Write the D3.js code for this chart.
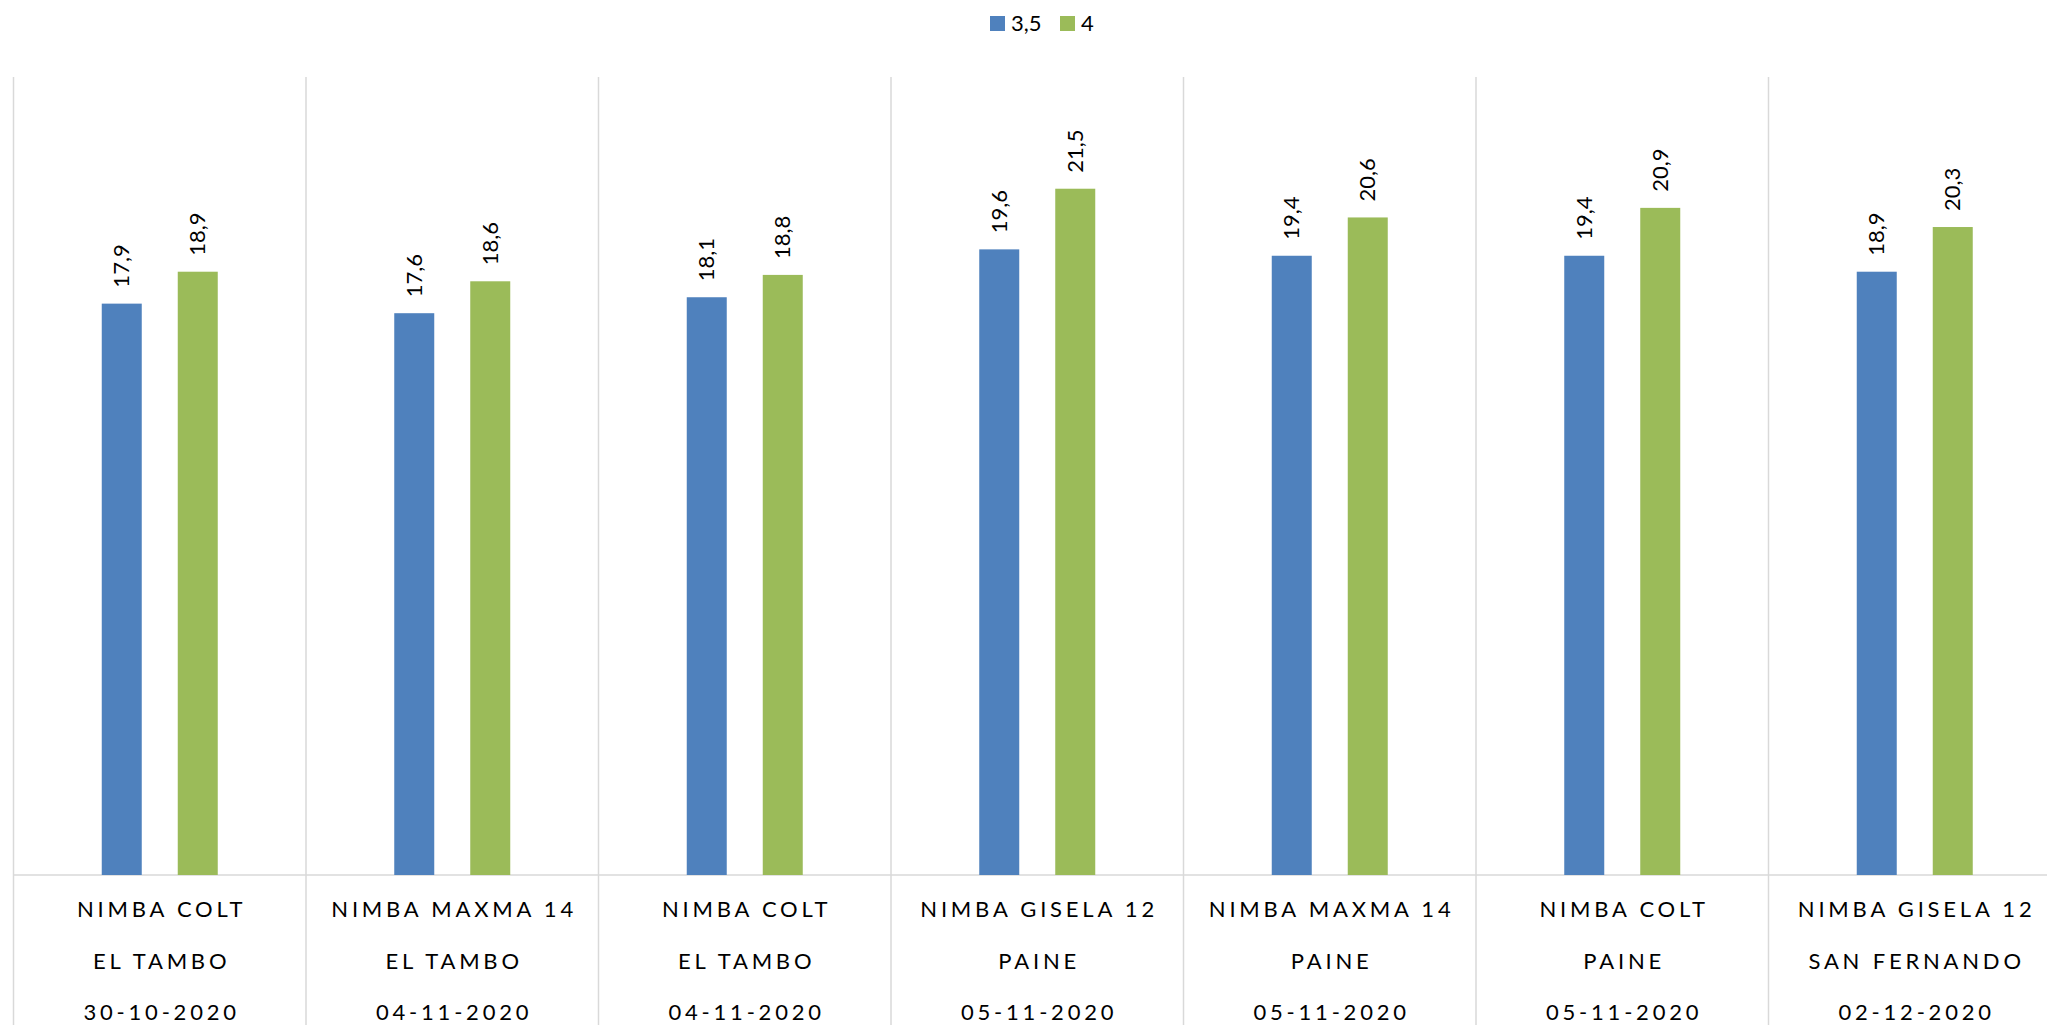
<!DOCTYPE html>
<html>
<head>
<meta charset="utf-8">
<script src="https://cdn.jsdelivr.net/npm/d3@7"></script>
<style>
  html, body { margin: 0; padding: 0; background: #fff; }
  svg { display: block; font-family: Lato, "Open Sans", sans-serif; }
</style>
</head>
<body>
<svg id="chart" width="2047" height="1025"></svg>
<script>
// data
const varieties = ["NIMBA COLT", "NIMBA MAXMA 14", "NIMBA COLT", "NIMBA GISELA 12", "NIMBA MAXMA 14", "NIMBA COLT", "NIMBA GISELA 12"];
const sites = ["EL TAMBO", "EL TAMBO", "EL TAMBO", "PAINE", "PAINE", "PAINE", "SAN FERNANDO"];
const dates = ["30-10-2020", "04-11-2020", "04-11-2020", "05-11-2020", "05-11-2020", "05-11-2020", "02-12-2020"];
const seriesNames = ["3,5", "4"];
const values35 = [17.9, 17.6, 18.1, 19.6, 19.4, 19.4, 18.9];
const values4 = [18.9, 18.6, 18.8, 21.5, 20.6, 20.9, 20.3];

const colors = { "3,5": "#4f81bd", "4": "#9bbb59" };

const svg = d3.select("#chart");
const width = +svg.attr("width");
const height = +svg.attr("height");

const margin = { top: 77, left: 13.5, bottom: 150 };
const plotBottom = height - margin.bottom; // 875
const step = 292.5;

const cats = d3.range(varieties.length);

// outer scale: one band per category
const x0 = d3.scaleBand()
    .domain(cats)
    .range([margin.left, margin.left + step * cats.length])
    .padding(0);

// inner scale: 2 bars per band
const x1 = d3.scaleBand()
    .domain(seriesNames)
    .range([0, x0.bandwidth()])
    .paddingInner(36 / 76)
    .paddingOuter((x0.bandwidth() - 116) / 2 / 76);

const y = d3.scaleLinear()
    .domain([0, 25])
    .range([plotBottom, margin.top]);

const rows = cats.map(i => ({ i, "3,5": values35[i], "4": values4[i] }));

// vertical separators between categories
svg.append("g")
    .selectAll("line")
    .data(d3.range(cats.length + 1))
    .enter().append("line")
    .attr("x1", i => margin.left + i * x0.step())
    .attr("x2", i => margin.left + i * x0.step())
    .attr("y1", margin.top)
    .attr("y2", height)
    .attr("stroke", "#d9d9d9")
    .attr("stroke-width", 1.5);

// baseline
svg.append("line")
    .attr("x1", margin.left)
    .attr("x2", width)
    .attr("y1", y(0))
    .attr("y2", y(0))
    .attr("stroke", "#d9d9d9")
    .attr("stroke-width", 1.5);

// bars
const groups = svg.append("g")
    .selectAll("g")
    .data(rows)
    .enter().append("g")
    .attr("transform", d => `translate(${x0(d.i)},0)`);

groups.selectAll("rect")
    .data(d => seriesNames.map(s => ({ s, v: d[s] })))
    .enter().append("rect")
    .attr("x", d => x1(d.s))
    .attr("y", d => y(d.v))
    .attr("width", x1.bandwidth())
    .attr("height", d => y(0) - y(d.v))
    .attr("fill", d => colors[d.s]);

// value labels, rotated
groups.selectAll("text")
    .data(d => seriesNames.map(s => ({ s, v: d[s] })))
    .enter().append("text")
    .attr("transform", d => `translate(${x1(d.s) + x1.bandwidth() / 2},${y(d.v) - 16}) rotate(-90)`)
    .attr("dy", "0.35em")
    .attr("font-size", 22)
    .attr("fill", "#000")
    .text(d => d.v.toFixed(1).replace(".", ","));

// category labels
const ls = 3.8;
const catLabels = svg.append("g")
    .selectAll("text")
    .data(cats)
    .enter().append("text")
    .attr("x", i => x0(i) + x0.bandwidth() / 2 + ls / 2)
    .attr("text-anchor", "middle")
    .attr("font-size", 22)
    .attr("letter-spacing", ls)
    .attr("fill", "#000");

[varieties, sites, dates].forEach((arr, k) => {
    catLabels.append("tspan")
        .attr("x", i => x0(i) + x0.bandwidth() / 2 + ls / 2)
        .attr("y", 917 + k * 51.5)
        .text(i => arr[i]);
});

// legend
const legend = svg.append("g");
const legendX = [990, 1060];
seriesNames.forEach((s, k) => {
    legend.append("rect")
        .attr("x", legendX[k])
        .attr("y", 16)
        .attr("width", 15)
        .attr("height", 15)
        .attr("fill", colors[s]);
    legend.append("text")
        .attr("x", legendX[k] + 21)
        .attr("y", 31)
        .attr("font-size", 22)
        .attr("fill", "#000")
        .text(s);
});
</script>
</body>
</html>
